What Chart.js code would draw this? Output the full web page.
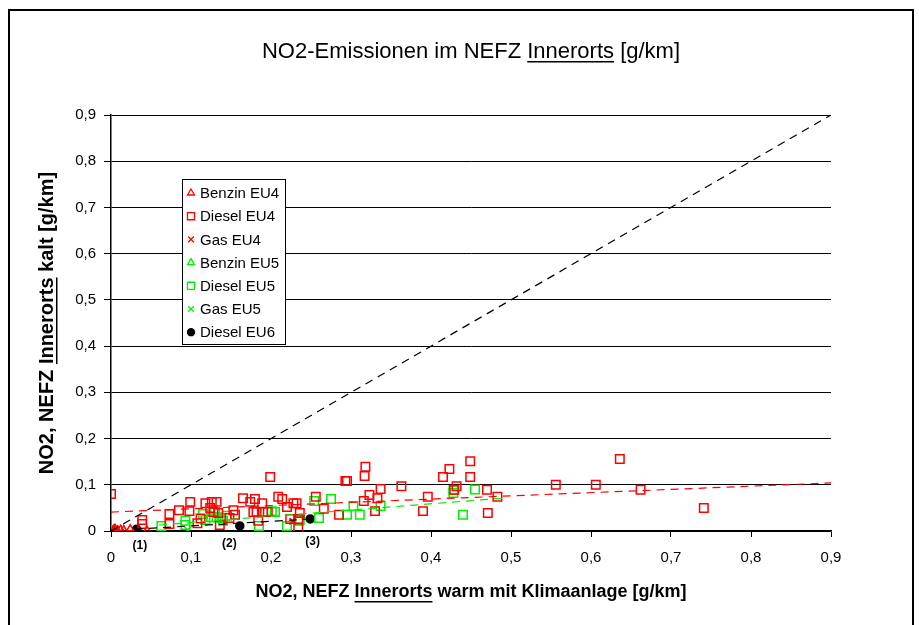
<!DOCTYPE html>
<html>
<head>
<meta charset="utf-8">
<script src="https://cdn.jsdelivr.net/npm/chart.js@4.4.1/dist/chart.umd.min.js"></script>
<style>
  body { margin: 0; background: #fff; }
  canvas { display: block; }
</style>
</head>
<body>
<canvas id="myChart" width="919" height="625"></canvas>
<script>
// values, [warm, kalt] in g/km
const benzinEU4 = [[0.003,0.003],[0.008,0.002],[0.012,0.004],[0.016,0.003],[0.024,0.005],[0.045,0.002],[0.005,0.006]];
const dieselEU4 = [
  [0,0.08],[0.039,0.024],[0.039,0.015],[0.073,0.037],[0.073,0.015],[0.085,0.045],[0.099,0.063],[0.098,0.043],[0.108,0.017],
  [0.199,0.117],[0.118,0.06],[0.126,0.063],[0.132,0.063],[0.124,0.05],[0.128,0.041],[0.134,0.039],[0.136,0.013],[0.153,0.045],
  [0.155,0.035],[0.165,0.071],[0.174,0.063],[0.18,0.069],[0.178,0.041],[0.182,0.041],[0.189,0.06],[0.19,0.041],[0.196,0.041],
  [0.184,0.022],[0.209,0.074],[0.214,0.069],[0.22,0.052],[0.228,0.06],[0.232,0.06],[0.224,0.026],[0.234,0.026],[0.234,0.007],
  [0.148,0.028],[0.112,0.027],
  [0.318,0.139],[0.317,0.119],[0.293,0.108],[0.295,0.108],[0.337,0.091],[0.363,0.097],[0.323,0.078],[0.333,0.071],[0.316,0.065],
  [0.256,0.074],[0.266,0.048],[0.285,0.035],[0.33,0.043],[0.236,0.039],
  [0.449,0.151],[0.423,0.134],[0.415,0.117],[0.449,0.117],[0.432,0.097],[0.429,0.089],[0.47,0.089],[0.483,0.074],[0.396,0.074],
  [0.39,0.043],[0.471,0.039],
  [0.556,0.1],[0.606,0.1],[0.636,0.156],[0.662,0.089],[0.741,0.05]
];
const gasEU4 = [[0.227,0.021],[0.006,0.004]];
const benzinEU5 = [[0.001,0.002],[0.003,0.004],[0.005,0.001],[0.002,0]];
const dieselEU5 = [
  [0.002,0.001],[0.063,0.011],[0.093,0.022],[0.093,0.013],[0.115,0.037],[0.13,0.041],[0.132,0.03],[0.138,0.028],[0.14,0.022],
  [0.118,0.024],[0.125,0.03],[0.145,0.033],[0.185,0.011],[0.201,0.043],[0.205,0.041],[0.22,0.011],[0.235,0.022],[0.254,0.065],
  [0.275,0.069],[0.26,0.028],[0.236,0.024],[0.303,0.054],[0.295,0.035],[0.311,0.035],[0.337,0.054],[0.428,0.082],[0.428,0.088],
  [0.455,0.09],[0.44,0.035]
];
const gasEU5 = [[0.096,0.002],[0.004,0.003]];
const dieselEU6 = [[0,0],[0.032,0.004],[0.161,0.011],[0.249,0.026]];

// trend lines (end points)
const diagonal = [[0,0],[0.9,0.9]];
const trendEU4 = [[0,0.041],[0.9,0.104]];
const trendEU5 = [[0.06,0.013],[0.49,0.071]];
const trendEU6 = [[0.03,0.004],[0.25,0.026]];

const noteLabels = ["(1)", "(2)", "(3)"];
const noteX = [0.036, 0.148, 0.252];

const xTicks = [0, 0.1, 0.2, 0.3, 0.4, 0.5, 0.6, 0.7, 0.8, 0.9];

const pts = arr => arr.map(p => ({x: p[0], y: p[1]}));
const RED = "#FF0000", GREEN = "#00F000", FONT = "'Liberation Sans', Arial, sans-serif";

function marker(label, data, color, style, radius, fill) {
    return {
        label: label,
        data: pts(data),
        showLine: false,
        pointStyle: style,
        pointRadius: radius,
        pointBorderWidth: 1.5,
        borderColor: color,
        backgroundColor: fill || "rgba(0,0,0,0)",
        legend: true
    };
}

function trend(data, color) {
    return {
        data: pts(data),
        showLine: true,
        pointRadius: 0,
        borderColor: color,
        borderWidth: 1.2,
        borderDash: [8, 6],
        legend: false
    };
}

function fmt(v) {
    return v === 0 ? "0" : v.toFixed(1).replace(".", ",");
}

function underlined(ctx, parts, cx, cy, font) {
    ctx.font = font;
    let total = 0;
    parts.forEach(p => total += ctx.measureText(p[0]).width);
    let x = cx - total / 2;
    ctx.textBaseline = "middle";
    ctx.textAlign = "left";
    parts.forEach(p => {
        const w = ctx.measureText(p[0]).width;
        ctx.fillText(p[0], x, cy);
        if (p[1]) {
            ctx.fillRect(x, cy + 9, w, 1.5);
        }
        x += w;
    });
}

const decor = {
    id: "decor",
    beforeDraw(chart) {
        const ctx = chart.ctx;
        ctx.save();
        ctx.fillStyle = "#fff";
        ctx.fillRect(0, 0, chart.width, chart.height);
        ctx.restore();
    },
    afterDraw(chart) {
        const ctx = chart.ctx;
        const area = chart.chartArea;
        const cx = (area.left + area.right) / 2;
        ctx.save();
        ctx.fillStyle = "#000";

        // outer frame
        ctx.lineWidth = 2;
        ctx.strokeStyle = "#000";
        ctx.strokeRect(9, 10, 904, 640);

        underlined(ctx, [["NO2-Emissionen im NEFZ ", false], ["Innerorts", true], [" [g/km]", false]], cx, 52, "22px " + FONT);
        underlined(ctx, [["NO2, NEFZ ", false], ["Innerorts", true], [" warm mit Klimaanlage [g/km]", false]], cx, 592, "bold 18px " + FONT);

        ctx.save();
        ctx.translate(47, (area.top + area.bottom) / 2);
        ctx.rotate(-Math.PI / 2);
        underlined(ctx, [["NO2, NEFZ ", false], ["Innerorts", true], [" kalt [g/km]", false]], 0, 0, "bold 20px " + FONT);
        ctx.restore();

        // notes under the Diesel EU6 points
        const xs = chart.scales.x;
        ctx.font = "bold 12px " + FONT;
        ctx.textAlign = "center";
        ctx.textBaseline = "middle";
        noteLabels.forEach((t, i) => ctx.fillText(t, xs.getPixelForValue(noteX[i]), area.bottom + 15 - i * 2));

        // legend box
        const lx = 182, ly = 179, lw = 103, lh = 165;
        ctx.fillStyle = "#fff";
        ctx.fillRect(lx, ly, lw, lh);
        ctx.lineWidth = 1;
        ctx.strokeStyle = "#000";
        ctx.strokeRect(lx + 0.5, ly + 0.5, lw, lh);
        ctx.font = "15px " + FONT;
        ctx.textAlign = "left";
        let row = 0;
        chart.data.datasets.forEach(ds => {
            if (!ds.legend) return;
            const y = ly + 14 + row * 23.2;
            const r = ds.pointStyle === "rect" ? 5 : (ds.pointStyle === "circle" ? 3.5 : 4);
            ctx.strokeStyle = ds.borderColor;
            ctx.fillStyle = ds.backgroundColor;
            ctx.lineWidth = 1.3;
            Chart.helpers.drawPoint(ctx, {
                pointStyle: ds.pointStyle,
                radius: r,
                borderWidth: 1.3,
                rotation: 0
            }, lx + 9, y);
            ctx.fillStyle = "#000";
            ctx.fillText(ds.label, lx + 18, y + 1);
            row++;
        });
        ctx.restore();
    }
};

new Chart(document.getElementById("myChart"), {
    type: 'scatter',
    data: {
        datasets: [
            trend(diagonal, "#000"),
            trend(trendEU4, RED),
            trend(trendEU5, GREEN),
            trend(trendEU6, "#000"),
            marker("Benzin EU4", benzinEU4, RED, "triangle", 4),
            marker("Diesel EU4", dieselEU4, RED, "rect", 6),
            marker("Gas EU4", gasEU4, RED, "crossRot", 4.5),
            marker("Benzin EU5", benzinEU5, GREEN, "triangle", 4),
            marker("Diesel EU5", dieselEU5, GREEN, "rect", 6),
            marker("Gas EU5", gasEU5, GREEN, "crossRot", 4.5),
            marker("Diesel EU6", dieselEU6, "#000", "circle", 4, "#000")
        ]
    },
    options: {
        responsive: false,
        animation: false,
        layout: {
            padding: {left: 0, top: 115, right: 88, bottom: 0}
        },
        scales: {
            x: {
                type: 'linear',
                min: 0,
                max: 0.9,
                afterFit: s => { s.height = 94; },
                afterBuildTicks: s => { s.ticks = xTicks.map(v => ({value: v})); },
                border: {color: "#000", width: 1.5},
                grid: {drawOnChartArea: false, color: "#000", tickLength: 6},
                ticks: {
                    padding: 12,
                    color: "#000",
                    font: {family: FONT, size: 15},
                    callback: v => fmt(v)
                }
            },
            y: {
                type: 'linear',
                min: 0,
                max: 0.9,
                afterFit: s => { s.width = 111; },
                afterBuildTicks: s => { s.ticks = xTicks.map(v => ({value: v})); },
                border: {color: "#000", width: 1.5},
                grid: {color: "#000", lineWidth: 1, tickLength: 7},
                ticks: {
                    padding: 8,
                    color: "#000",
                    font: {family: FONT, size: 15},
                    callback: v => fmt(v)
                }
            }
        },
        plugins: {
            legend: {display: false},
            title: {display: false},
            tooltip: {enabled: false}
        }
    },
    plugins: [decor]
});
</script>
</body>
</html>
